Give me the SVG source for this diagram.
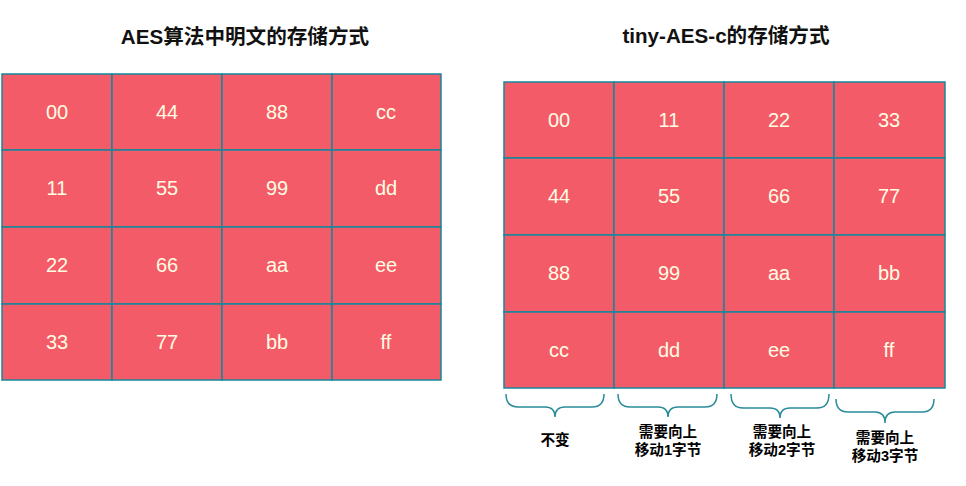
<svg xmlns="http://www.w3.org/2000/svg" width="966" height="486" viewBox="0 0 966 486">
<style>
.c{fill:#F45B69;stroke:#17879A;stroke-width:1.5}
.t{font-family:"Liberation Sans",Arial,sans-serif;font-size:20px;fill:#FFFDE2;text-anchor:middle}
.h{font-family:"Liberation Sans","Noto Sans CJK SC",sans-serif;font-size:20.6px;font-weight:bold;fill:#111;text-anchor:middle}
.l{font-family:"Liberation Sans","Noto Sans CJK SC",sans-serif;font-size:14.6px;font-weight:bold;fill:#000;text-anchor:middle}
.b{fill:none;stroke:#2A8C9A;stroke-width:1.5}
</style>
<rect width="966" height="486" fill="#fff"/>
<text class="h" x="245" y="44">AES算法中明文的存储方式</text>
<text class="h" x="726" y="43">tiny-AES-c的存储方式</text>
<g id="left">
<g id="L00"><rect class="c" x="2" y="74" width="110" height="76"/><text class="t" x="57" y="119">00</text></g>
<g id="L01"><rect class="c" x="112" y="74" width="110" height="76"/><text class="t" x="167" y="119">44</text></g>
<g id="L02"><rect class="c" x="222" y="74" width="110" height="76"/><text class="t" x="277" y="119">88</text></g>
<g id="L03"><rect class="c" x="332" y="74" width="109" height="76"/><text class="t" x="386" y="119">cc</text></g>
<g id="L10"><rect class="c" x="2" y="150" width="110" height="77"/><text class="t" x="57" y="195">11</text></g>
<g id="L11"><rect class="c" x="112" y="150" width="110" height="77"/><text class="t" x="167" y="195">55</text></g>
<g id="L12"><rect class="c" x="222" y="150" width="110" height="77"/><text class="t" x="277" y="195">99</text></g>
<g id="L13"><rect class="c" x="332" y="150" width="109" height="77"/><text class="t" x="386" y="195">dd</text></g>
<g id="L20"><rect class="c" x="2" y="227" width="110" height="77"/><text class="t" x="57" y="272">22</text></g>
<g id="L21"><rect class="c" x="112" y="227" width="110" height="77"/><text class="t" x="167" y="272">66</text></g>
<g id="L22"><rect class="c" x="222" y="227" width="110" height="77"/><text class="t" x="277" y="272">aa</text></g>
<g id="L23"><rect class="c" x="332" y="227" width="109" height="77"/><text class="t" x="386" y="272">ee</text></g>
<g id="L30"><rect class="c" x="2" y="304" width="110" height="76"/><text class="t" x="57" y="349">33</text></g>
<g id="L31"><rect class="c" x="112" y="304" width="110" height="76"/><text class="t" x="167" y="349">77</text></g>
<g id="L32"><rect class="c" x="222" y="304" width="110" height="76"/><text class="t" x="277" y="349">bb</text></g>
<g id="L33"><rect class="c" x="332" y="304" width="109" height="76"/><text class="t" x="386" y="349">ff</text></g>
</g>
<g id="right">
<g id="R00"><rect class="c" x="504" y="82" width="110" height="76"/><text class="t" x="559" y="127">00</text></g>
<g id="R01"><rect class="c" x="614" y="82" width="110" height="76"/><text class="t" x="669" y="127">11</text></g>
<g id="R02"><rect class="c" x="724" y="82" width="110" height="76"/><text class="t" x="779" y="127">22</text></g>
<g id="R03"><rect class="c" x="834" y="82" width="111" height="76"/><text class="t" x="889" y="127">33</text></g>
<g id="R10"><rect class="c" x="504" y="158" width="110" height="77"/><text class="t" x="559" y="203">44</text></g>
<g id="R11"><rect class="c" x="614" y="158" width="110" height="77"/><text class="t" x="669" y="203">55</text></g>
<g id="R12"><rect class="c" x="724" y="158" width="110" height="77"/><text class="t" x="779" y="203">66</text></g>
<g id="R13"><rect class="c" x="834" y="158" width="111" height="77"/><text class="t" x="889" y="203">77</text></g>
<g id="R20"><rect class="c" x="504" y="235" width="110" height="77"/><text class="t" x="559" y="280">88</text></g>
<g id="R21"><rect class="c" x="614" y="235" width="110" height="77"/><text class="t" x="669" y="280">99</text></g>
<g id="R22"><rect class="c" x="724" y="235" width="110" height="77"/><text class="t" x="779" y="280">aa</text></g>
<g id="R23"><rect class="c" x="834" y="235" width="111" height="77"/><text class="t" x="889" y="280">bb</text></g>
<g id="R30"><rect class="c" x="504" y="312" width="110" height="76"/><text class="t" x="559" y="357">cc</text></g>
<g id="R31"><rect class="c" x="614" y="312" width="110" height="76"/><text class="t" x="669" y="357">dd</text></g>
<g id="R32"><rect class="c" x="724" y="312" width="110" height="76"/><text class="t" x="779" y="357">ee</text></g>
<g id="R33"><rect class="c" x="834" y="312" width="111" height="76"/><text class="t" x="889" y="357">ff</text></g>
</g>
<g id="braces">
<path class="b" d="M506,394 Q506,407 518,407 L545,407 Q555,407 555,417 Q555,407 565,407 L592,407 Q604,407 604,394"/>
<path class="b" d="M618,394 Q618,407 630,407 L658,407 Q668,407 668,417 Q668,407 678,407 L705,407 Q717,407 717,394"/>
<path class="b" d="M731,394 Q731,408 743,408 L770,408 Q780,408 780,418 Q780,408 790,408 L817,408 Q829,408 829,394"/>
<path class="b" d="M836,399 Q836,412 848,412 L875,412 Q885,412 885,423 Q885,412 895,412 L922,412 Q934,412 934,399"/>
</g>
<g id="labels">
<text class="l" x="555" y="445">不变</text>
<text class="l" x="668" y="437">需要向上</text>
<text class="l" x="668" y="455">移动1字节</text>
<text class="l" x="782" y="437">需要向上</text>
<text class="l" x="782" y="455">移动2字节</text>
<text class="l" x="885" y="443">需要向上</text>
<text class="l" x="885" y="461">移动3字节</text>
</g>
</svg>
